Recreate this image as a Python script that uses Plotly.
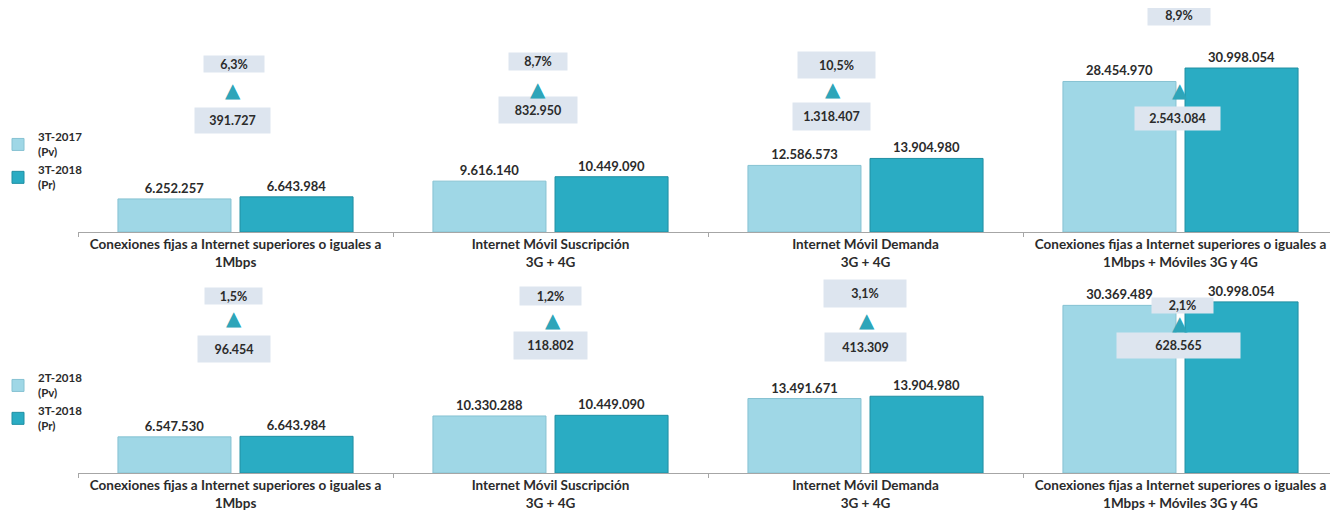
"""Conexiones a Internet: comparativo trimestral en dos filas de cuatro paneles."""
import plotly.graph_objects as go

# the page body has an 8px margin, so the figure is drawn 8px smaller
OFF = 8
W, H = 1338 - OFF, 510 - OFF

categories = [
    "Conexiones fijas a Internet superiores o iguales a<br>1Mbps",
    "Internet Móvil Suscripción<br>3G + 4G",
    "Internet Móvil Demanda<br>3G + 4G",
    "Conexiones fijas a Internet superiores o iguales a<br>1Mbps + Móviles 3G y 4G",
]

# fila superior: 3T-2017 vs 3T-2018
top_prev_name = "3T-2017<br>(Pv)"
top_curr_name = "3T-2018<br>(Pr)"
top_prev = [6252257, 9616140, 12586573, 28454970]
top_curr = [6643984, 10449090, 13904980, 30998054]

# fila inferior: 2T-2018 vs 3T-2018
bot_prev_name = "2T-2018<br>(Pv)"
bot_curr_name = "3T-2018<br>(Pr)"
bot_prev = [6547530, 10330288, 13491671, 30369489]
bot_curr = [6643984, 10449090, 13904980, 30998054]

LIGHT = "#9fd7e6"
DARK = "#2aacc3"
BOX = "#dde5ef"
TRI = "#2ea5b9"
FONT = "Lato"
TXT = "#2b2b2b"

# page-pixel layout of the boxes (center x, center y, width, height)
TOP_PCT = [(234, 64, 60, 16), (538, 61, 58, 17), (836, 65, 77, 26), (1179, 15, 62, 20)]
TOP_TRI = [(233, 90), (538, 89), (833, 89), (1180, 90)]
TOP_DIF = [(232, 120, 75, 25), (538, 110, 78, 26), (831, 116, 77, 27), (1177, 118, 85, 23)]
BOT_PCT = [(233, 296, 57, 16), (550, 296, 61, 18), (865, 293, 82, 27), (1182, 305, 61, 15)]
BOT_TRI = [(234, 318), (553, 320), (867, 320), (1180, 323)]
BOT_DIF = [(234, 349, 72, 26), (550, 345, 73, 27), (865, 347, 81, 28), (1178, 345, 123, 25)]

AX_LEFT = 78  # page x where the axes start


def px(x):
    return (x - AX_LEFT) / (1338 - AX_LEFT)


def py(y):
    return 1 - (y - OFF) / H


def fmt_int(v):
    return f"{v:,}".replace(",", ".")


def fmt_pct(v):
    return f"{v:.1f}".replace(".", ",") + "%"


fig = go.Figure()

rows = [
    ("x", "y", "legend", top_prev_name, top_curr_name, top_prev, top_curr),
    ("x2", "y2", "legend2", bot_prev_name, bot_curr_name, bot_prev, bot_curr),
]
for xa, ya, lg, pn, cn, prev, curr in rows:
    for name, vals, color, edge in [(pn, prev, LIGHT, "#86c2d2"), (cn, curr, DARK, "#1f8fa3")]:
        fig.add_trace(go.Bar(
            x=categories, y=vals, name=name, xaxis=xa, yaxis=ya, legend=lg,
            marker=dict(color=color, line=dict(color=edge, width=1)),
            texttemplate="%{y:,.0f}", textposition="outside",
            textfont=dict(family=FONT, size=13, color=TXT, weight="bold"),
            cliponaxis=False, hoverinfo="skip",
        ))

annotations = []
for prev, curr, pct_pos, tri_pos, dif_pos in [
    (top_prev, top_curr, TOP_PCT, TOP_TRI, TOP_DIF),
    (bot_prev, bot_curr, BOT_PCT, BOT_TRI, BOT_DIF),
]:
    for i in range(len(categories)):
        diff = curr[i] - prev[i]
        pct = diff / prev[i] * 100
        for text, (cx, cy, bw, bh) in [(fmt_pct(pct), pct_pos[i]), (fmt_int(diff), dif_pos[i])]:
            annotations.append(dict(
                x=px(cx), y=py(cy), xref="paper", yref="paper", text=text,
                showarrow=False, width=bw, height=bh, bgcolor=BOX, borderpad=0,
                font=dict(family=FONT, size=12.5, color=TXT, weight="bold"),
                xanchor="center", yanchor="middle",
            ))
        tx, ty = tri_pos[i]
        annotations.append(dict(
            x=px(tx), y=py(ty), xref="paper", yref="paper", text="▲",
            showarrow=False, font=dict(family="DejaVu Sans", size=20, color=TRI),
            xanchor="center", yanchor="middle",
        ))

axis_x = dict(
    type="category", showline=True, linecolor="#a6a6a6", linewidth=1,
    ticks="outside", tickson="boundaries", ticklen=4, tickcolor="#a6a6a6",
    showgrid=False, zeroline=False, automargin=False,
    tickfont=dict(family=FONT, size=13.5, color=TXT, weight="bold"),
    fixedrange=True,
)
legend_style = dict(
    x=px(-2), xanchor="left", yanchor="top", bgcolor="rgba(0,0,0,0)",
    font=dict(family=FONT, size=11.5, color=TXT, weight="bold"),
    itemwidth=30, tracegroupgap=0,
)

fig.update_layout(
    width=W, height=H,
    margin=dict(l=AX_LEFT - OFF, r=0, t=0, b=0, autoexpand=False),
    paper_bgcolor="white", plot_bgcolor="white",
    separators=",.",
    barmode="group", bargap=0.225, bargroupgap=0.074,
    showlegend=True,
    xaxis=dict(axis_x, anchor="y"),
    xaxis2=dict(axis_x, anchor="y2"),
    yaxis=dict(domain=[py(232), 1], range=[0, (232 - OFF) / 5.29e-6], visible=False),
    yaxis2=dict(domain=[py(473), py(270)], range=[0, 203 / 5.52e-6], visible=False),
    legend=dict(legend_style, y=py(123)),
    legend2=dict(legend_style, y=py(364)),
    annotations=annotations,
)

fig.write_html("out.html")
